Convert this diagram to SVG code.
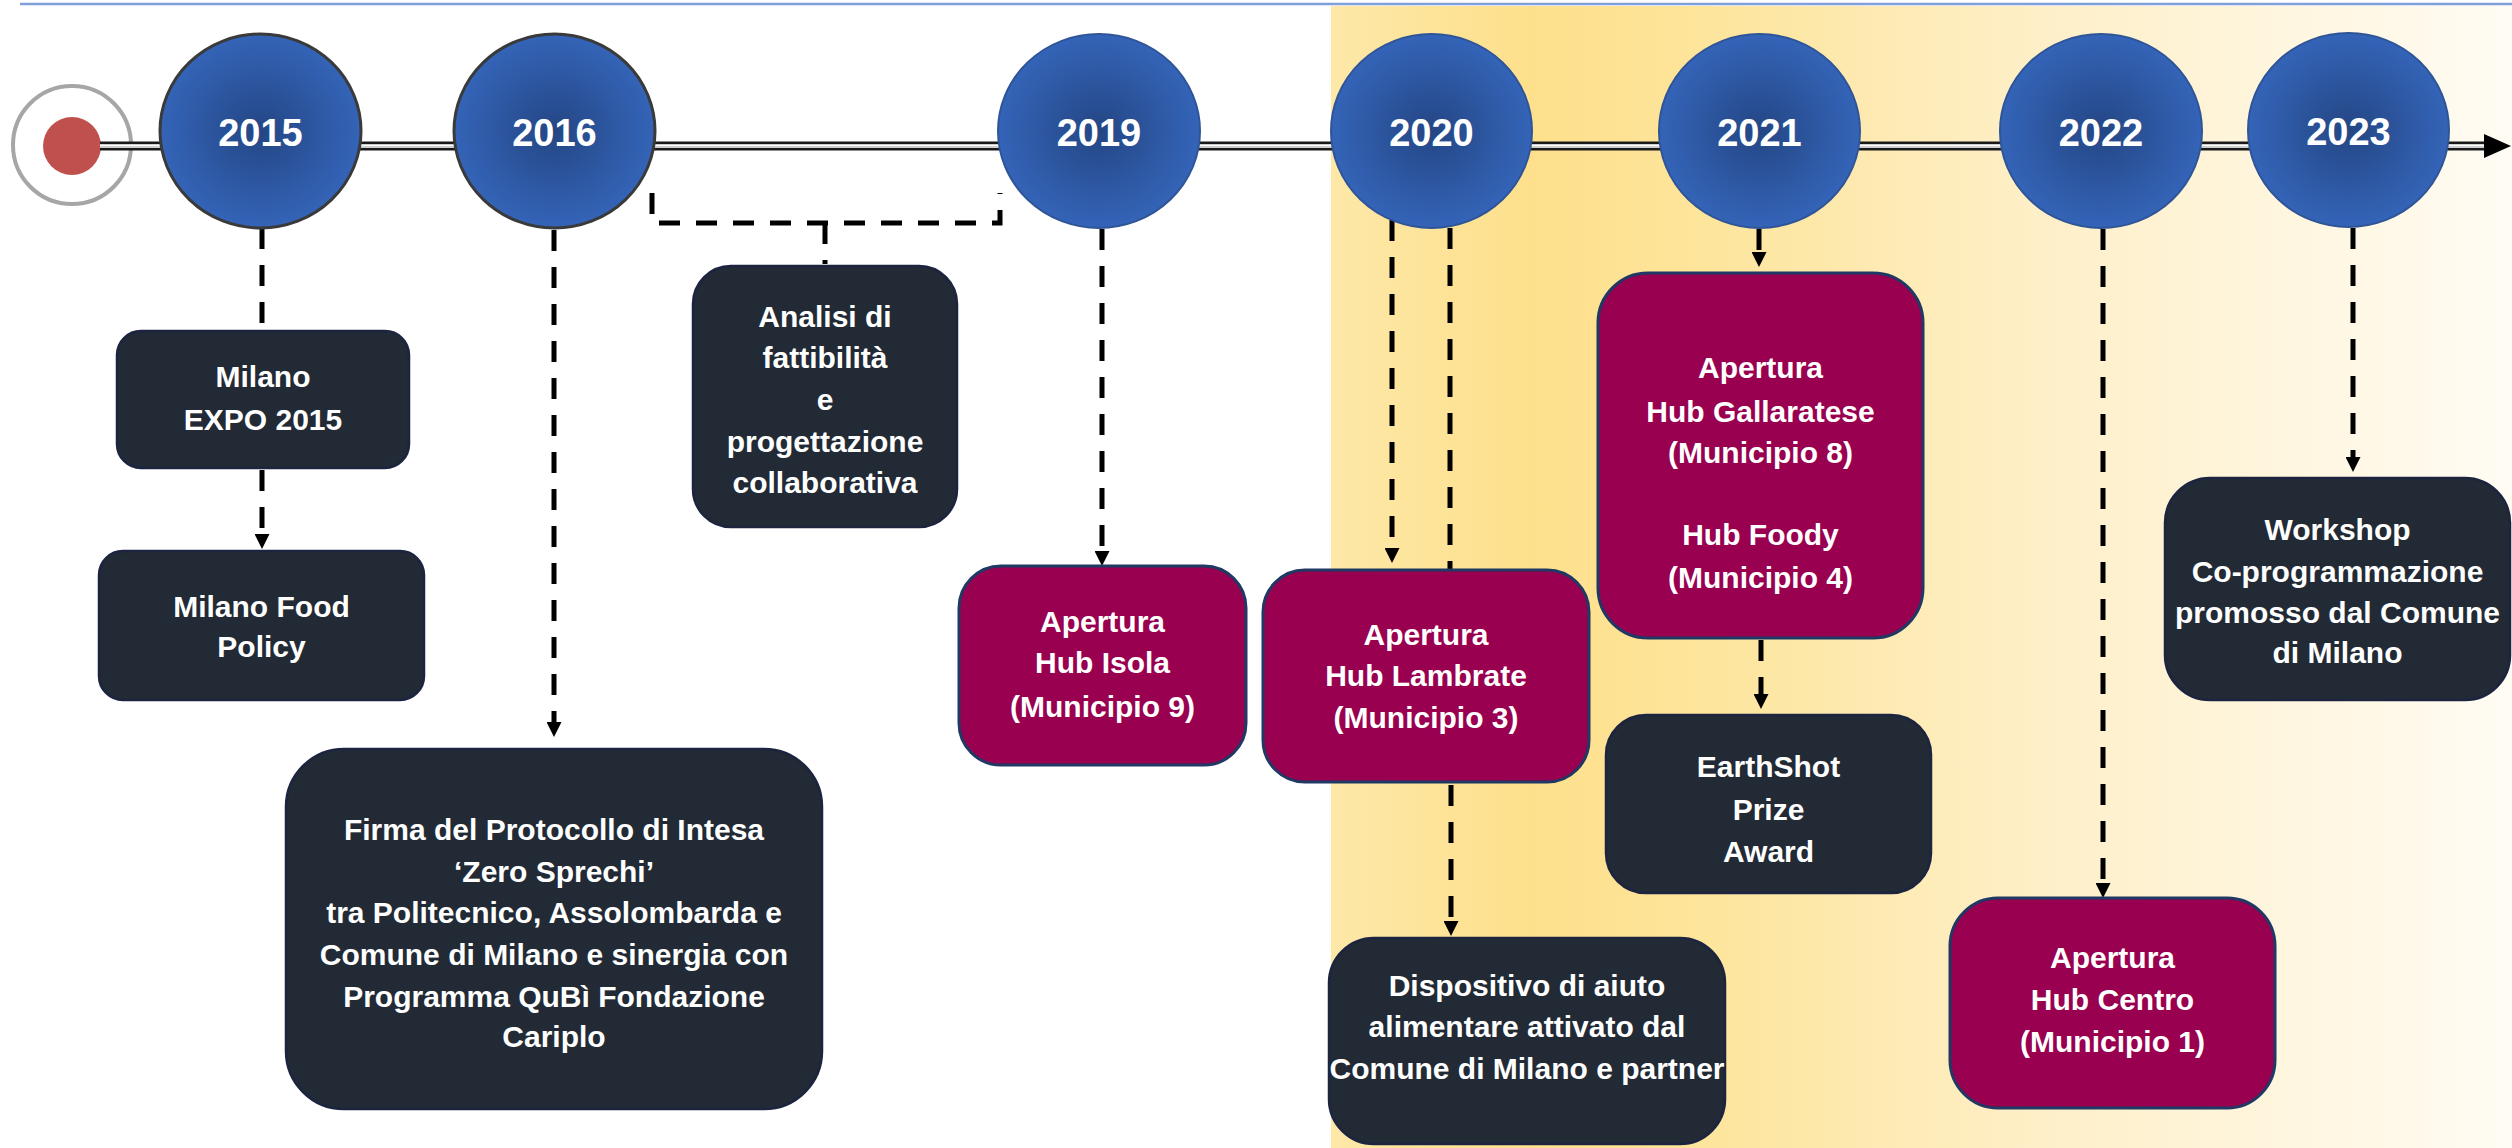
<svg xmlns="http://www.w3.org/2000/svg" width="2512" height="1148" viewBox="0 0 2512 1148">
<defs>
<linearGradient id="bgY" x1="0" y1="0" x2="1" y2="0">
<stop offset="0" stop-color="#fde8a8"/>
<stop offset="0.17" stop-color="#fee08c"/>
<stop offset="0.32" stop-color="#fde59c"/>
<stop offset="0.6" stop-color="#feefc8"/>
<stop offset="1" stop-color="#fffcf4"/>
</linearGradient>
<radialGradient id="ell" cx="0.5" cy="0.5" r="0.5">
<stop offset="0" stop-color="#244684"/>
<stop offset="1" stop-color="#3464b8"/>
</radialGradient>
<marker id="ah" viewBox="0 0 15 15" markerWidth="15" markerHeight="15" markerUnits="userSpaceOnUse" refX="5" refY="7.5" orient="auto">
<path d="M0,0 L15,7.5 L0,15 z" fill="#000"/>
</marker>
<style>
.yr{font-family:"Liberation Sans",Arial,sans-serif;font-weight:bold;font-size:38px;fill:#fff;text-anchor:middle}
.t{font-family:"Liberation Sans",Arial,sans-serif;font-weight:bold;font-size:30px;fill:#fff;text-anchor:middle}
.dk{fill:#222a35;stroke:#1c2440;stroke-width:2.5}
.mg{fill:#990050;stroke:#1f3864;stroke-width:3}
.el{fill:url(#ell);stroke:#2f5597;stroke-width:2}
.el2{fill:url(#ell);stroke:#3a3a3a;stroke-width:3}
.dash{fill:none;stroke:#000;stroke-width:5;stroke-dasharray:21 16}
</style>
</defs>

<rect x="0" y="0" width="2512" height="1148" fill="#fff"/>
<rect x="1331" y="6" width="1181" height="1142" fill="url(#bgY)"/>
<line x1="20" y1="4" x2="2512" y2="4" stroke="#7f9fd9" stroke-width="2.5"/>

<g id="start">
<circle cx="72" cy="145" r="59" fill="#fff" stroke="#a6a6a6" stroke-width="4"/>
<circle cx="72" cy="146" r="29" fill="#c0504d"/>
</g>

<g id="timeline">
<line x1="100" y1="146" x2="2487" y2="146" stroke="#1a1a1a" stroke-width="9"/>
<line x1="100" y1="146" x2="2487" y2="146" stroke="#cfcfcf" stroke-width="4"/>
<line x1="100" y1="145.5" x2="2487" y2="145.5" stroke="#fff" stroke-width="1.2"/>
<polygon points="2484,134 2511,146 2484,158" fill="#000"/>
</g>

<g id="connectors">
<path class="dash" d="M262 228 V331"/>
<path class="dash" d="M262 470 V539" marker-end="url(#ah)"/>
<path class="dash" d="M554 230 V727" marker-end="url(#ah)"/>
<path class="dash" d="M652 193 V223 H1000 V193"/>
<path class="dash" d="M825 223 V264"/>
<path class="dash" d="M1102 229 V556" marker-end="url(#ah)"/>
<path class="dash" d="M1392 220 V553" marker-end="url(#ah)"/>
<path class="dash" d="M1450 228 V570"/>
<path class="dash" d="M1451 785 V926" marker-end="url(#ah)"/>
<path class="dash" d="M1759 229 V257" marker-end="url(#ah)"/>
<path class="dash" d="M1761 640 V699" marker-end="url(#ah)"/>
<path class="dash" d="M2103 229 V888" marker-end="url(#ah)"/>
<path class="dash" d="M2353 228 V462" marker-end="url(#ah)"/>
</g>

<g id="y2015"><ellipse class="el2" cx="260.5" cy="131" rx="100.5" ry="97"/><text class="yr" x="260.5" y="146">2015</text></g>
<g id="y2016"><ellipse class="el2" cx="554.5" cy="131" rx="100.5" ry="97"/><text class="yr" x="554.5" y="146">2016</text></g>
<g id="y2019"><ellipse class="el" cx="1099" cy="131" rx="101" ry="97"/><text class="yr" x="1099" y="146">2019</text></g>
<g id="y2020"><ellipse class="el" cx="1431.5" cy="131" rx="100.5" ry="97"/><text class="yr" x="1431.5" y="146">2020</text></g>
<g id="y2021"><ellipse class="el" cx="1759.5" cy="131" rx="100.5" ry="97"/><text class="yr" x="1759.5" y="146">2021</text></g>
<g id="y2022"><ellipse class="el" cx="2101" cy="131" rx="101" ry="97"/><text class="yr" x="2101" y="146">2022</text></g>
<g id="y2023"><ellipse class="el" cx="2348.5" cy="130" rx="100.5" ry="97"/><text class="yr" x="2348.5" y="145">2023</text></g>

<g id="expo"><rect class="dk" x="117" y="331" width="292" height="137" rx="24"/>
<text class="t" x="263" y="387">Milano</text><text class="t" x="263" y="430">EXPO 2015</text></g>

<g id="foodpolicy"><rect class="dk" x="99" y="551" width="325" height="149" rx="24"/>
<text class="t" x="261.5" y="617">Milano Food</text><text class="t" x="261.5" y="657">Policy</text></g>

<g id="firma"><rect class="dk" x="286" y="749" width="536" height="360" rx="58"/>
<text class="t" x="554" y="840">Firma del Protocollo di Intesa</text>
<text class="t" x="554" y="882">‘Zero Sprechi’</text>
<text class="t" x="554" y="923">tra Politecnico, Assolombarda e</text>
<text class="t" x="554" y="965">Comune di Milano e sinergia con</text>
<text class="t" x="554" y="1007">Programma QuBì Fondazione</text>
<text class="t" x="554" y="1047">Cariplo</text></g>

<g id="analisi"><rect class="dk" x="693" y="266" width="264" height="261" rx="38"/>
<text class="t" x="825" y="327">Analisi di</text>
<text class="t" x="825" y="368">fattibilità</text>
<text class="t" x="825" y="410">e</text>
<text class="t" x="825" y="452">progettazione</text>
<text class="t" x="825" y="493">collaborativa</text></g>

<g id="isola"><rect class="mg" x="959" y="566" width="287" height="199" rx="42"/>
<text class="t" x="1102.5" y="632">Apertura</text>
<text class="t" x="1102.5" y="673">Hub Isola</text>
<text class="t" x="1102.5" y="717">(Municipio 9)</text></g>

<g id="lambrate"><rect class="mg" x="1263" y="570" width="326" height="212" rx="42"/>
<text class="t" x="1426" y="645">Apertura</text>
<text class="t" x="1426" y="686">Hub Lambrate</text>
<text class="t" x="1426" y="728">(Municipio 3)</text></g>

<g id="dispositivo"><rect class="dk" x="1329" y="938" width="396" height="206" rx="45"/>
<text class="t" x="1527" y="996">Dispositivo di aiuto</text>
<text class="t" x="1527" y="1037">alimentare attivato dal</text>
<text class="t" x="1527" y="1079">Comune di Milano e partner</text></g>

<g id="gallaratese"><rect class="mg" x="1598" y="273" width="325" height="365" rx="50"/>
<text class="t" x="1760.5" y="378">Apertura</text>
<text class="t" x="1760.5" y="422">Hub Gallaratese</text>
<text class="t" x="1760.5" y="463">(Municipio 8)</text>
<text class="t" x="1760.5" y="545">Hub Foody</text>
<text class="t" x="1760.5" y="588">(Municipio 4)</text></g>

<g id="earthshot"><rect class="dk" x="1606" y="715" width="325" height="178" rx="40"/>
<text class="t" x="1768.5" y="777">EarthShot</text>
<text class="t" x="1768.5" y="820">Prize</text>
<text class="t" x="1768.5" y="862">Award</text></g>

<g id="centro"><rect class="mg" x="1950" y="898" width="325" height="210" rx="48"/>
<text class="t" x="2112.5" y="968">Apertura</text>
<text class="t" x="2112.5" y="1010">Hub Centro</text>
<text class="t" x="2112.5" y="1052">(Municipio 1)</text></g>

<g id="workshop"><rect class="dk" x="2165" y="478" width="345" height="222" rx="45"/>
<text class="t" x="2337.5" y="540">Workshop</text>
<text class="t" x="2337.5" y="582">Co-programmazione</text>
<text class="t" x="2337.5" y="623">promosso dal Comune</text>
<text class="t" x="2337.5" y="663">di Milano</text></g>
</svg>
